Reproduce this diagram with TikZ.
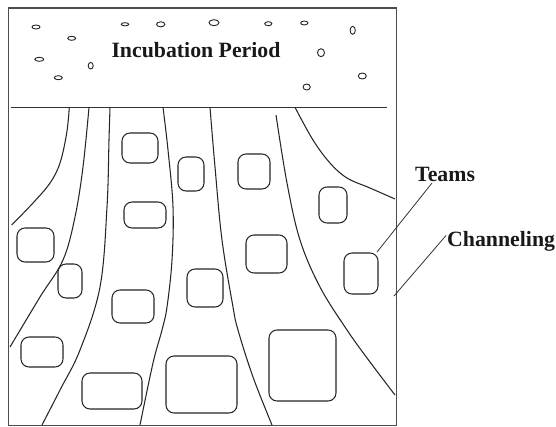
\documentclass[tikz,border=0pt]{standalone}
\usepackage{fontspec}
\setmainfont{Liberation Serif}
\tikzset{
  ln/.style={draw=black!80, line width=1pt},
  frame/.style={draw=black!70, line width=1.3pt},
  chan/.style={draw=black!85, line width=1.05pt},
  team/.style={draw=black!85, line width=1.05pt, rounded corners=8pt, inner sep=0pt},
  seed/.style={draw=black!85, line width=0.9pt},
  lbl/.style={font=\fontsize{21.8}{24}\selectfont\bfseries, inner sep=0pt, text=black!90},
}
\newcommand{\tbox}[5]{\node[team, minimum width=#4 pt, minimum height=#5 pt] (#1) at (#2,#3) {};}
\begin{document}
\begin{tikzpicture}[x=1pt,y=-1pt]
\useasboundingbox (0,0) rectangle (556,426);
\fill[white] (0,0) rectangle (556,426);
% frame
\draw[frame] (8.5,8) rectangle (396.5,425.5);
\draw[ln] (11,107.3) -- (387,107.3);
% title
\node[lbl, anchor=base] (title) at (196,57) {Incubation Period};
% seeds
\foreach \x/\y/\a/\b in {36/27/4/2, 71.7/38.3/4/2, 39.3/59.3/4.5/2, 58.3/77.7/4/2, 90.7/65.7/2.5/3.3,
  125/24.3/3.8/1.6, 160.7/24.3/4.2/2.5, 214/22.7/5/3, 268.3/23.7/3.6/2, 304.3/23/3.6/2,
  352.7/30.3/2.6/4, 321/52.7/3.5/4, 362.3/76/4/3, 306.7/87/3.6/3}
  \draw[seed] (\x,\y) ellipse [x radius=\a, y radius=\b];
% channels
\draw[chan] plot[smooth, tension=0.6] coordinates {(69.3,107.3) (66.7,133) (60,163) (50,183) (33,203) (11.7,225)};
\draw[chan] plot[smooth, tension=0.6] coordinates {(89,107.3) (83,167) (75,217) (63,260) (40,297) (10,347)};
\draw[chan] plot[smooth, tension=0.6] coordinates {(110,107.3) (109,140) (107,207) (100,287) (80,350) (60,390) (42,425)};
\draw[chan] plot[smooth, tension=0.6] coordinates {(163,107.3) (168,150) (173,207) (172,260) (167,307) (162,330) (153,363) (140,425)};
\draw[chan] plot[smooth, tension=0.6] coordinates {(210,107.3) (215,167) (222,240) (233,307) (238,330) (253,377) (272,425)};
\draw[chan] plot[smooth, tension=0.6] coordinates {(276,115) (287,183) (300,240) (320,287) (347,330) (370,362) (395,395)};
\draw[chan] plot[smooth, tension=0.6] coordinates {(295,107.3) (313,140) (330,163) (347,178) (370,188) (395,199)};
% teams
\tbox{t1}{140}{148}{36}{30}
\tbox{t2}{191}{174}{26}{34}
\tbox{t3}{254}{171.5}{32}{35}
\tbox{t4}{333}{205}{28}{36}
\tbox{t5}{145}{215}{42}{26}
\tbox{t6}{35.5}{245}{37}{34}
\tbox{t7}{266.5}{254}{41}{38}
\tbox{t8}{361}{273.5}{34}{41}
\tbox{t9}{70}{281}{24}{34}
\tbox{t10}{205}{288}{36}{38}
\tbox{t11}{133}{306.5}{42}{33}
\tbox{t12}{42}{352}{42}{30}
\tbox{t13}{302.5}{365.5}{67}{71}
\tbox{t14}{112}{391}{60}{36}
\tbox{t15}{201.5}{384.5}{71}{57}
% labels
\node[lbl, anchor=base west] (teams) at (415,181.7) {Teams};
\node[lbl, anchor=base west] (chl) at (447,246.7) {Channeling};
\coordinate (teamsA) at (432,183);
\coordinate (teamsB) at (377,252);
\coordinate (chlA) at (446,235.5);
\coordinate (chlB) at (394,296);
\draw[ln, line width=0.8pt] (teamsA) -- (teamsB);
\draw[ln, line width=0.8pt] (chlA) -- (chlB);
\end{tikzpicture}
\end{document}
